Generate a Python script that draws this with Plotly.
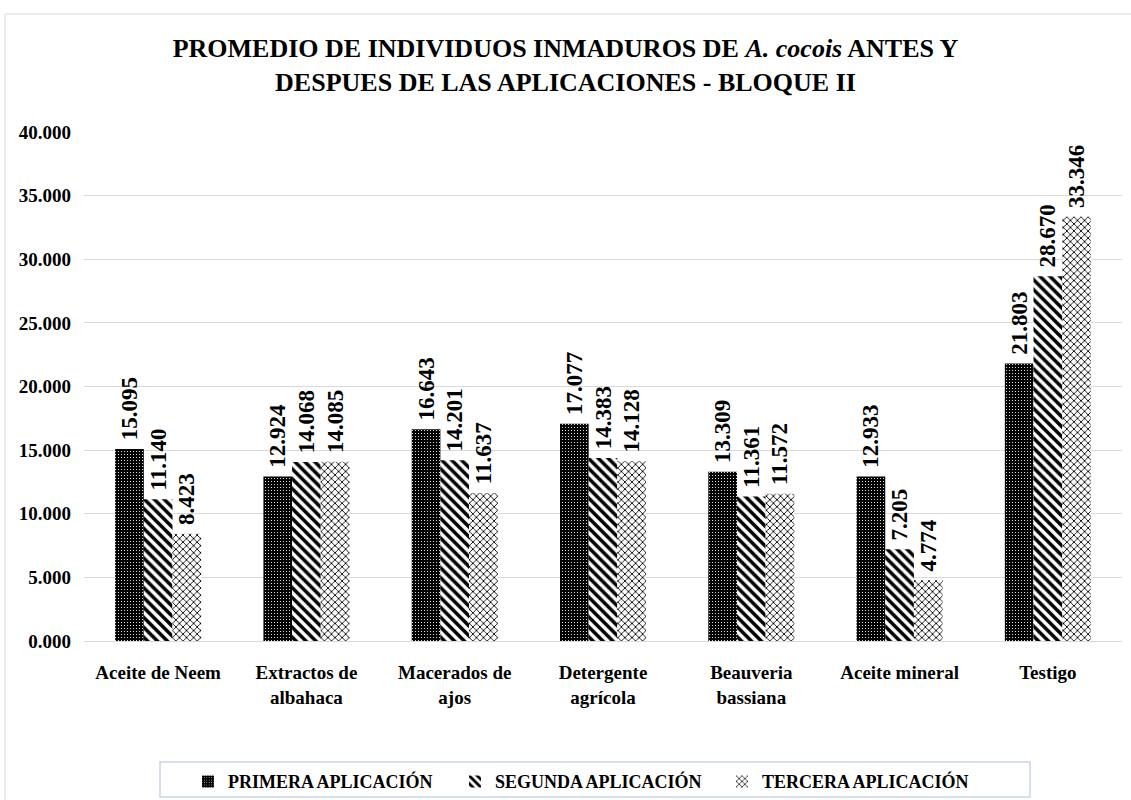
import plotly.graph_objects as go

categories = ["Aceite de Neem", "Extractos de<br>albahaca", "Macerados de<br>ajos",
              "Detergente<br>agrícola", "Beauveria<br>bassiana", "Aceite mineral", "Testigo"]
primera = [15.095, 12.924, 16.643, 17.077, 13.309, 12.933, 21.803]
segunda = [11.140, 14.068, 14.201, 14.383, 11.361, 7.205, 28.670]
tercera = [8.423, 14.085, 11.637, 14.128, 11.572, 4.774, 33.346]
series_names = ["PRIMERA APLICACIÓN", "SEGUNDA APLICACIÓN", "TERCERA APLICACIÓN"]
y_ticks = [0, 5, 10, 15, 20, 25, 30, 35, 40]

FONT = "Liberation Serif"

patterns = [
    dict(shape=".", bgcolor="black", fgcolor="white", size=3, solidity=0.12, fillmode="replace"),
    dict(shape="\\", bgcolor="white", fgcolor="black", size=7, solidity=0.5, fillmode="replace"),
    dict(shape="x", bgcolor="white", fgcolor="black", size=5, solidity=0.32, fillmode="replace"),
]

fig = go.Figure()
for name, vals, pat in zip(series_names, [primera, segunda, tercera], patterns):
    fig.add_trace(go.Bar(
        x=categories, y=vals, name=name,
        marker=dict(color="white", pattern=pat, line=dict(width=0)),
        text=[f"\u00a0{v:.3f}" for v in vals],
        textposition="outside", textangle=-90, constraintext="none",
        textfont=dict(family=FONT, size=23, color="black", weight="bold"),
        cliponaxis=False,
    ))

fig.update_layout(
    width=1131, height=800,
    margin=dict(l=84, r=9, t=132, b=159),
    paper_bgcolor="white", plot_bgcolor="white",
    barmode="group", bargap=0.42, bargroupgap=0,
    font=dict(family=FONT, color="black"),
    title=dict(
        text="<b>PROMEDIO DE INDIVIDUOS INMADUROS DE <i>A. cocois</i> ANTES Y<br>"
             "DESPUES DE LAS APLICACIONES - BLOQUE II</b>",
        x=0.5, xanchor="center", y=0.929, yanchor="middle",
        font=dict(family=FONT, size=26, color="black"),
    ),
    xaxis=dict(
        showgrid=False, showline=True, linecolor="#d9d9d9", linewidth=1,
        ticks="", ticklabelstandoff=14, automargin=False,
        tickfont=dict(family=FONT, size=19, color="black", weight="bold"),
    ),
    yaxis=dict(
        range=[0, 40], tickvals=y_ticks, tickformat=".3f",
        showgrid=True, gridcolor="#d9d9d9", gridwidth=1,
        zeroline=False, showline=False, ticks="", automargin=False,
        ticklabelstandoff=12,
        tickfont=dict(family=FONT, size=19, color="black", weight="bold"),
    ),
    legend=dict(
        orientation="h", x=0.486, xanchor="center",
        yref="container", y=0.046, yanchor="top",
        borderwidth=0, bgcolor="rgba(0,0,0,0)",
        font=dict(family=FONT, size=18, color="black", weight="bold"),
        itemwidth=30, entrywidthmode="pixels", entrywidth=222,
    ),
)

# outer chart frame
fig.add_shape(type="rect", xref="paper", yref="paper",
              x0=(5 - 84) / 1038, x1=(1140 - 84) / 1038,
              y0=(641 - 810) / 509, y1=(641 - 14) / 509,
              line=dict(color="#d9d9d9", width=1), layer="below")

# legend frame
fig.add_shape(type="rect", xref="paper", yref="paper",
              x0=(160 - 84) / 1038, x1=(1030 - 84) / 1038,
              y0=(641 - 797) / 509, y1=(641 - 762) / 509,
              line=dict(color="#c9d5e8", width=1.5), fillcolor="white", layer="below")

fig.write_html("out.html")
